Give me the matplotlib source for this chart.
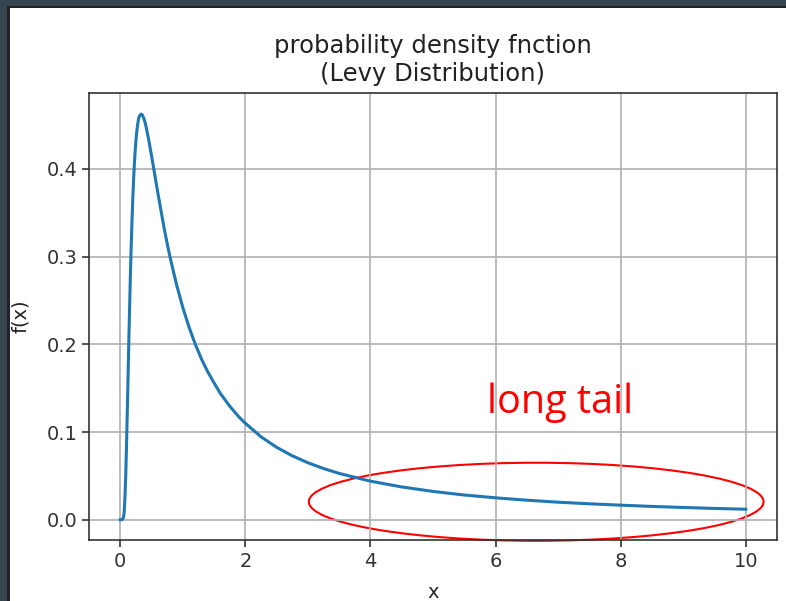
import numpy as np
import matplotlib
matplotlib.use('Agg')
import matplotlib.pyplot as plt
from matplotlib.patches import Ellipse, Rectangle

# values
x_vals = [0.0, 0.025, 0.05, 0.0625, 0.075, 0.0875, 0.1, 0.1125, 0.125, 0.1375,
          0.15, 0.1625, 0.175, 0.1875, 0.2, 0.2125, 0.225, 0.2375, 0.25, 0.2625,
          0.275, 0.2875, 0.3, 0.3125, 0.333, 0.35, 0.375, 0.4, 0.425, 0.45,
          0.475, 0.5, 0.55, 0.6, 0.65, 0.7, 0.75, 0.8, 0.9, 1.0,
          1.1, 1.2, 1.3, 1.4, 1.5, 1.6, 1.75, 1.9, 2.0, 2.25,
          2.5, 2.75, 3.0, 3.25, 3.5, 4.0, 4.5, 5.0, 5.5, 6.0,
          6.5, 7.0, 7.5, 8.0, 8.5, 9.0, 9.5, 10.0]
fx_vals = [0.0, 0.0, 0.002, 0.0086, 0.025, 0.051, 0.085, 0.124, 0.165, 0.206,
           0.245, 0.281, 0.313, 0.341, 0.366, 0.387, 0.405, 0.420, 0.432, 0.442,
           0.449, 0.455, 0.459, 0.461, 0.4625, 0.462, 0.458, 0.452, 0.444, 0.435,
           0.425, 0.415, 0.394, 0.373, 0.353, 0.333, 0.315, 0.298, 0.268, 0.242,
           0.2195, 0.200, 0.183, 0.1685, 0.156, 0.144, 0.1295, 0.117, 0.110, 0.0946,
           0.0826, 0.0729, 0.065, 0.0584, 0.0528, 0.044, 0.0374, 0.0323, 0.0282, 0.025,
           0.0223, 0.020, 0.0182, 0.0166, 0.0152, 0.014, 0.0129, 0.012]

W, H = 786, 601
fig = plt.figure(figsize=(W / 100, H / 100), dpi=100)
fig.patch.set_facecolor('white')

# dark screenshot frame (top and left)
fig.patches.append(Rectangle((0, 1 - 8 / H), 1, 8 / H, transform=fig.transFigure,
                             facecolor='#36454f', edgecolor='none', zorder=0))
fig.patches.append(Rectangle((0, 1 - 8 / H), 1, 2.5 / H, transform=fig.transFigure,
                             facecolor='#1f2427', edgecolor='none', zorder=0))
fig.patches.append(Rectangle((0, 0), 10 / W, 1, transform=fig.transFigure,
                             facecolor='#36454f', edgecolor='none', zorder=0))
fig.patches.append(Rectangle((7 / W, 0), 3 / W, 1 - 5.5 / H, transform=fig.transFigure,
                             facecolor='#1f2427', edgecolor='none', zorder=0))

ax = fig.add_axes([89 / W, 61 / H, 688 / W, 447 / H])
ax.plot(x_vals, fx_vals, color='#1f77b4', linewidth=2.2, solid_joinstyle='round')
ax.set_title('probability density fnction\n(Levy Distribution)', fontsize=17.5, pad=9,
             color='#222222')
ax.set_xlabel('x', fontsize=14, labelpad=9, color='#222222')
ax.set_ylabel('f(x)', fontsize=14, labelpad=12, color='#222222')
ax.tick_params(labelsize=14, width=1.2, length=5, color='#333333', labelcolor='#333333')
for s in ax.spines.values():
    s.set_linewidth(1.2)
    s.set_color('#333333')
ax.set_xticks([0, 2, 4, 6, 8, 10])
ax.set_yticks([0.0, 0.1, 0.2, 0.3, 0.4])
ax.grid(True, color='#b0b0b0', linewidth=1.2)
ax.set_xlim(-0.5, 10.5)
ax.set_ylim(-0.0231, 0.4866)

ax.text(5.86, 0.122, 'long tail', color='red', fontsize=28.5, family=['Open Sans', 'DejaVu Sans'],
        ha='left', va='baseline')
ax.add_patch(Ellipse((6.65, 0.0205), 7.27, 0.089, fill=False, edgecolor='red',
                     linewidth=1.5, clip_on=False))

fig.savefig('out.png', dpi=100, facecolor=fig.get_facecolor())
